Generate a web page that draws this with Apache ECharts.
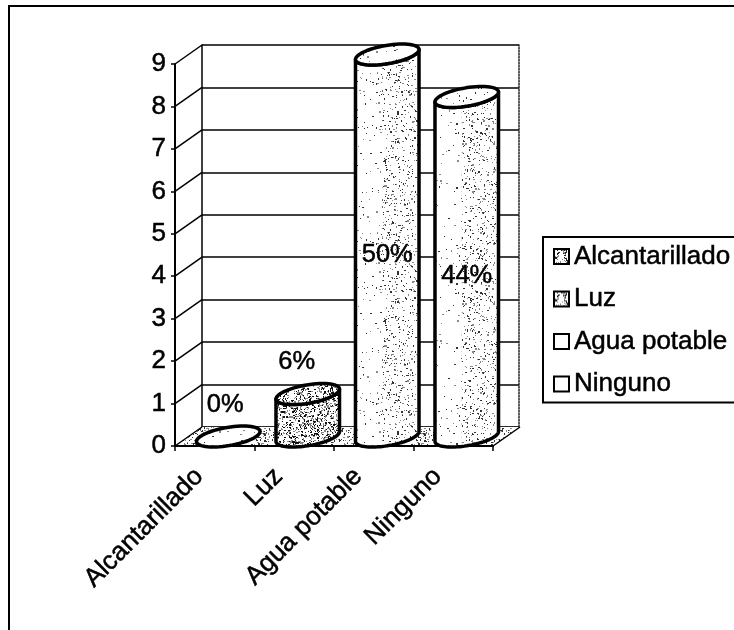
<!DOCTYPE html>
<html>
<head>
<meta charset="utf-8">
<style>html,body{margin:0;padding:0;background:#fff;overflow:hidden}#c{width:734px;height:630px}</style>
<script src="https://cdn.jsdelivr.net/npm/echarts@6/dist/echarts.min.js"></script>
</head>
<body>
<div id="c"></div>
<script>
const categories = ['Alcantarillado', 'Luz', 'Agua potable', 'Ninguno'];
const values = [0, 1, 9, 8];
const percentLabels = ['0%', '6%', '50%', '44%'];
const FONT = '"Liberation Sans", Arial, sans-serif';
const DX = 27, DY = -19;
const R_U = 28, R_VX = 15, R_VY = -10.5;

function stipple(density, seed, dark) {
  const s = 160, cv = document.createElement('canvas');
  cv.width = cv.height = s;
  const g = cv.getContext('2d');
  g.fillStyle = '#fff'; g.fillRect(0, 0, s, s);
  let r = seed;
  const next = () => (r = (r * 1664525 + 1013904223) >>> 0) / 4294967296;
  const n = Math.round(s * s * density);
  for (let i = 0; i < n; i++) {
    g.fillStyle = next() < 0.5 ? dark : '#888';
    g.fillRect(Math.floor(next() * s), Math.floor(next() * s), next() < 0.25 ? 2 : 1, next() < 0.2 ? 2 : 1);
  }
  return { image: cv, repeat: 'repeat' };
}
const sparse = stipple(0.014, 7, '#333');
const dense = stipple(0.075, 31, '#333');
const heavy = stipple(0.28, 53, '#111');
const floorFill = stipple(0.13, 91, '#333');
const legendFill = stipple(0.2, 11, '#222');

function ell(c, t) {
  return [c[0] + R_U * Math.cos(t) + R_VX * Math.sin(t), c[1] + R_VY * Math.sin(t)];
}
function arc(c, a, b, n) {
  const out = [];
  for (let i = 0; i <= n; i++) out.push(ell(c, a + (b - a) * i / n));
  return out;
}

function renderCylinder(params, api) {
  const i = api.value(0), v = api.value(1);
  const base = api.coord([i, 0]), top = api.coord([i, v]);
  const cb = [base[0] + DX / 2, base[1] + DY / 2];
  const ct = [top[0] + DX / 2, top[1] + DY / 2];
  const t0 = Math.atan2(R_VX, R_U);
  const lower = arc(cb, t0 + Math.PI, t0 + 2 * Math.PI, 40);
  const upperFront = arc(ct, t0 + 2 * Math.PI, t0 + Math.PI, 40);
  const body = lower.concat(upperFront);
  const ring = arc(ct, 0, 2 * Math.PI, 60);
  const lineW = 3.5;
  const kids = [];
  const isShort = v < 2;
  if (v > 0) {
    kids.push({ type: 'polygon', shape: { points: body }, style: { fill: isShort ? heavy : sparse, stroke: null } });
    if (!isShort) {
      const cut = body.filter(p => p[0] >= cb[0] - 6);
      kids.push({ type: 'polygon', shape: { points: cut }, style: { fill: dense, stroke: null } });
    }
    kids.push({ type: 'polygon', shape: { points: body }, style: { fill: 'none', stroke: '#000', lineWidth: lineW, lineJoin: 'round' } });
  }
  kids.push({ type: 'polygon', shape: { points: ring }, style: { fill: isShort && v > 0 ? heavy : sparse, stroke: '#000', lineWidth: lineW, lineJoin: 'round' } });
  const labelAt = api.coord([i, v < 2 ? v + 0.97 : v / 2]);
  kids.push({
    type: 'text', z2: 50,
    style: {
      text: percentLabels[i], x: labelAt[0] + DX / 2 - (v < 2 ? 3 + 8 * v : 0), y: labelAt[1],
      align: 'center', verticalAlign: 'middle', font: '25.5px ' + FONT, fill: '#000',
      stroke: '#000', lineWidth: 0.5
    }
  });
  return { type: 'group', children: kids };
}

function renderWalls(params, api) {
  const band = api.size([1, 0])[0];
  const o = api.coord([0, 0]);
  const x0 = o[0] - band / 2, y0 = o[1];
  const x1 = x0 + band * categories.length;
  const kids = [{
    type: 'polygon',
    shape: { points: [[x0, y0], [x1, y0], [x1 + DX, y0 + DY], [x0 + DX, y0 + DY]] },
    style: { fill: floorFill, stroke: null }
  }];
  for (let t = 0; t <= 9; t++) {
    const y = api.coord([0, t])[1];
    kids.push({ type: 'line', shape: { x1: x0, y1: y, x2: x0 + DX, y2: y + DY }, style: { stroke: '#000', lineWidth: 1.5 } });
  }
  kids.push({ type: 'line', shape: { x1: x1, y1: y0, x2: x1 + DX, y2: y0 + DY }, style: { stroke: '#000', lineWidth: 1.5 } });
  return { type: 'group', children: kids };
}

const chart = echarts.init(document.getElementById('c'), null, { renderer: 'canvas' });
const legendFills = [legendFill, legendFill, '#fff', '#fff'];
const boldText = { textBorderColor: '#000', textBorderWidth: 0.5 };
chart.setOption({
  animation: false,
  backgroundColor: '#fff',
  graphic: [{
    type: 'polyline', z: 0, silent: true,
    shape: { points: [[9, 631], [9, 6], [735, 6]] },
    style: { stroke: '#000', lineWidth: 2, fill: 'none' }
  }],
  grid: [
    { left: 175, top: 64, width: 318, height: 382 },
    { left: 202, top: 45, width: 317, height: 382 }
  ],
  xAxis: [
    {
      type: 'category', gridIndex: 0, data: categories, boundaryGap: true, z: 3,
      axisLine: { show: true, lineStyle: { color: '#000', width: 2 } },
      axisTick: { show: true, alignWithLabel: false, length: 5, lineStyle: { color: '#000', width: 1.5 } },
      axisLabel: Object.assign({ rotate: 45, interval: 0, margin: 11, padding: [0, 22, 0, 0], color: '#000', fontFamily: FONT, fontSize: 26 }, boldText)
    },
    {
      type: 'category', gridIndex: 1, data: categories, position: 'top',
      axisLine: { show: true, lineStyle: { color: '#222', width: 1.5, type: 'dotted' } },
      axisTick: { show: false }, axisLabel: { show: false }
    }
  ],
  yAxis: [
    {
      type: 'value', gridIndex: 0, min: 0, max: 9, interval: 1, z: 3,
      axisLine: { show: true, lineStyle: { color: '#000', width: 2 } },
      axisTick: { show: true, length: 4, lineStyle: { color: '#000', width: 1.5 } },
      splitLine: { show: false },
      axisLabel: Object.assign({ margin: 9, color: '#000', fontFamily: FONT, fontSize: 26 }, boldText)
    },
    {
      type: 'value', gridIndex: 1, min: 0, max: 9, interval: 1,
      axisLine: { show: true, lineStyle: { color: '#000', width: 1.5 } },
      axisTick: { show: false }, axisLabel: { show: false },
      splitLine: { show: true, lineStyle: { color: '#000', width: 1.5 } }
    },
    {
      type: 'value', gridIndex: 1, min: 0, max: 9, interval: 1, position: 'right',
      axisLine: { show: true, onZero: false, lineStyle: { color: '#222', width: 1.5, type: 'dotted' } },
      axisTick: { show: false }, axisLabel: { show: false }, splitLine: { show: false }
    }
  ],
  legend: {
    data: categories, orient: 'vertical', left: 543, top: 237, icon: 'rect',
    itemWidth: 15, itemHeight: 15, itemGap: 15.5, padding: [6, 60, 5, 10],
    backgroundColor: '#fff', borderColor: '#000', borderWidth: 2,
    selectedMode: false,
    textStyle: Object.assign({ color: '#000', fontFamily: FONT, fontSize: 26, padding: [0, 0, 0, 0], lineHeight: 27 }, boldText)
  },
  series: [
    {
      type: 'custom', name: '_walls', xAxisIndex: 0, yAxisIndex: 0, z: 1, silent: true,
      data: [[0, 0]], renderItem: renderWalls, clip: false
    }
  ].concat(categories.map((name, i) => ({
    type: 'custom', name, xAxisIndex: 0, yAxisIndex: 0, z: 5, silent: true, clip: false,
    itemStyle: { color: legendFills[i], borderColor: '#000', borderWidth: 2 },
    encode: { x: 0, y: 1 },
    data: [[i, values[i]]],
    renderItem: renderCylinder
  })))
});
</script>
</body>
</html>
